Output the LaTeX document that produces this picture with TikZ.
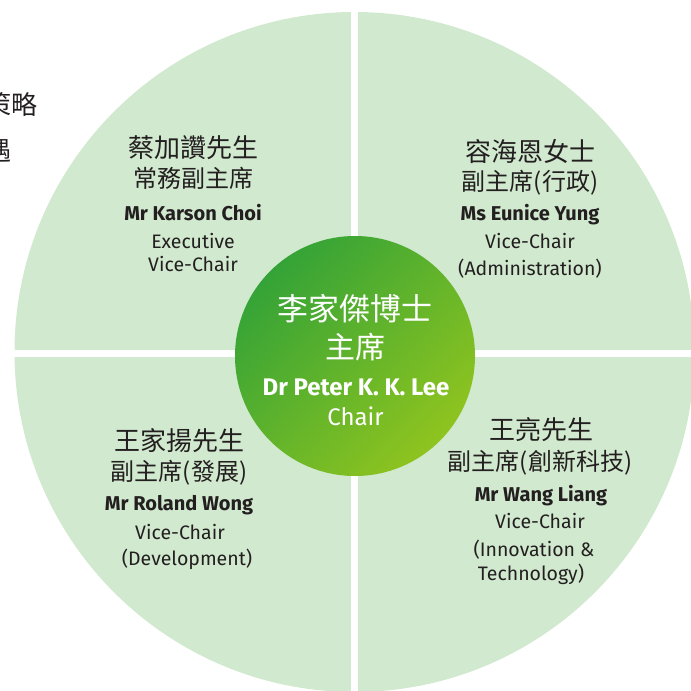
\documentclass[tikz,border=0pt]{standalone}
\usepackage{fontspec}
\setmainfont{Fira Sans}
\newfontfamily\cjk{Noto Sans CJK TC}
\definecolor{quadfill}{RGB}{209,233,206}
\definecolor{gA}{RGB}{52,163,55}
\definecolor{gB}{RGB}{143,196,31}
\definecolor{inkc}{RGB}{35,31,32}
\begin{document}
\begin{tikzpicture}[x=1pt,y=-1pt,
  tx/.style={anchor=base,inner sep=0pt,text=inkc},
  cnA/.style={tx,font=\cjk\fontsize{26}{26}\selectfont},
  cnB/.style={tx,font=\cjk\fontsize{24}{24}\selectfont},
  enB/.style={tx,font=\bfseries\fontsize{20}{20}\selectfont},
  enR/.style={tx,font=\fontsize{19.5}{19.5}\selectfont},
  wt/.style={text=white}]
\useasboundingbox (0,0) rectangle (691,691);
\clip (0,0) rectangle (691,691);
% quadrants
\fill[quadfill] (354.5,352) circle (340pt);
\fill[white] (351,-5) rectangle (358,700);
\fill[white] (-5,350) rectangle (700,356.5);
% centre circle
\shade[top color=gA, bottom color=gB, shading angle=45] (355,356) circle (120pt);
% cut-off text at left
\node[cnA,anchor=base east] (lt1) at (38,114.5) {策略};
\node[cnA,anchor=base east] (lt2) at (11.3,160) {遇};
% top-left
\node[cnA] (k1) at (193,157.5) {蔡加讚先生};
\node[cnB] (k2) at (193,187.6) {常務副主席};
\node[enB] (k3) at (193,220) {Mr Karson Choi};
\node[enR] (k4) at (193,248) {Executive};
\node[enR] (k5) at (193,271.5) {Vice-Chair};
% top-right
\node[cnA] (y1) at (530,161) {容海恩女士};
\node[cnB] (y2) at (530,190) {副主席(行政)};
\node[enB] (y3) at (530,220.5) {Ms Eunice Yung};
\node[enR] (y4) at (530,248.3) {Vice-Chair};
\node[enR] (y5) at (530,275) {(Administration)};
% bottom-left
\node[cnA] (w1) at (179,450) {王家揚先生};
\node[cnB] (w2) at (179,480) {副主席(發展)};
\node[enB] (w3) at (179,510) {Mr Roland Wong};
\node[enR] (w4) at (180,539) {Vice-Chair};
\node[enR] (w5) at (187,565) {(Development)};
% bottom-right
\node[cnA] (l1) at (541,439) {王亮先生};
\node[cnB] (l2) at (540,470) {副主席(創新科技)};
\node[enB] (l3) at (541,501.7) {Mr Wang Liang};
\node[enR] (l4) at (540,528.3) {Vice-Chair};
\node[enR] (l5) at (534,556) {(Innovation \&};
\node[enR] (l6) at (531,580) {Technology)};
% centre
\node[tx,wt,font=\cjk\fontsize{31}{31}\selectfont] (c1) at (355,320.5) {李家傑博士};
\node[tx,wt,font=\cjk\fontsize{30}{30}\selectfont] (c2) at (355,358) {主席};
\node[tx,wt,font=\bfseries\fontsize{24}{24}\selectfont] (c3) at (356,395) {Dr Peter K. K. Lee};
\node[tx,wt,font=\fontsize{24}{24}\selectfont] (c4) at (355.5,425) {Chair};
\end{tikzpicture}
\end{document}
